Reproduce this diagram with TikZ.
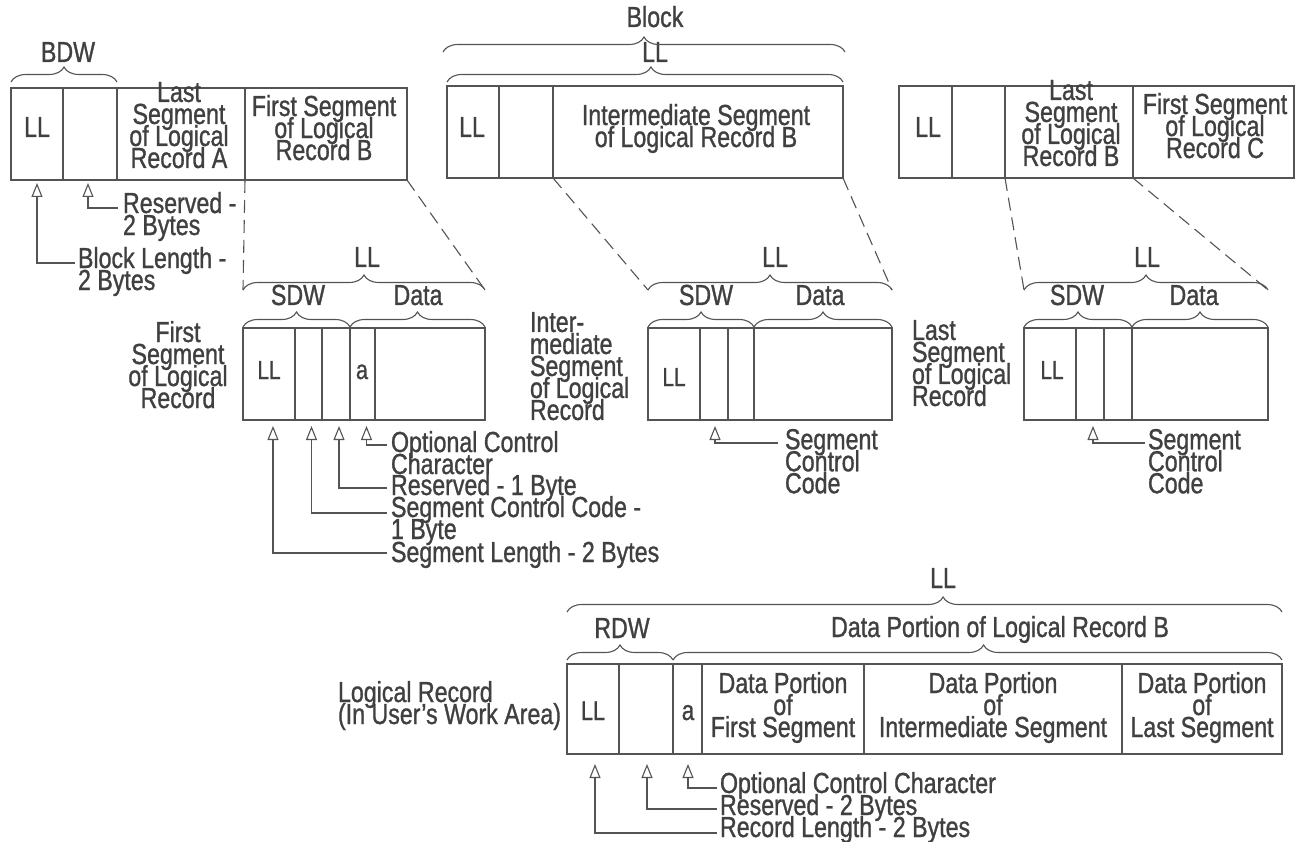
\documentclass[tikz,border=0pt]{standalone}
\usepackage{fontspec}
\setmainfont[FakeStretch=0.8, FakeBold=1]{Liberation Sans}
\usetikzlibrary{arrows.meta,decorations.pathreplacing,calc}
\newcommand\Fnt[2]{\fontsize{#1}{#2}\selectfont\lineskiplimit=-100pt\relax}
\newcommand\mkcell[5]{\node[cellst, minimum width=#4pt, minimum height=#5pt] (#1) at (#2,#3) {};}
\definecolor{inkc}{gray}{0.25}
\definecolor{linec}{gray}{0.33}
\begin{document}
\begin{tikzpicture}[x=1pt,y=-1pt,
  cellst/.style={draw=linec, line width=1.1pt, anchor=north west, inner sep=0pt, outer sep=0pt},
  txt/.style={text=inkc, inner sep=0pt, outer sep=0pt, font=\Fnt{29}{22}},
  lbl/.style={txt, align=left, anchor=north west},
  ctr/.style={txt, align=center, anchor=north},
  bl/.style={txt, anchor=base},
  smallll/.style={txt, anchor=base, font=\Fnt{26}{22}},
  bracest/.style={draw=linec, line width=1.1pt, decorate, decoration={brace, amplitude=15pt}},
  dashline/.style={draw=linec, line width=1.1pt, dash pattern=on 13pt off 7pt},
  ptr/.style={draw=linec, line width=1.1pt, -{Triangle[open, length=14pt, width=11pt]}}
]
\fill[white] (0,0) rectangle (1295,842);
\useasboundingbox (0,0) rectangle (1295,842);

% ---------- top blocks ----------
\mkcell{b1a}{11}{88}{52}{92}
\mkcell{b1b}{63}{88}{54}{92}
\mkcell{b1c}{117}{88}{128}{92}
\mkcell{b1d}{245}{88}{162}{92}
\mkcell{b2a}{447}{86}{52}{92}
\mkcell{b2b}{499}{86}{54}{92}
\mkcell{b2c}{553}{86}{290}{92}
\mkcell{b3a}{899}{86}{53}{92}
\mkcell{b3b}{952}{86}{53}{92}
\mkcell{b3c}{1005}{86}{128}{92}
\mkcell{b3d}{1133}{86}{161}{92}

\node[bl] (b1all) at (37,137) {LL};
\node[ctr] (b1ct) at (179,82) {Last\\Segment\\of Logical\\Record A};
\node[ctr] (b1dt) at (324,95) {First Segment\\of Logical\\Record B};
\node[bl] (b2all) at (472,137) {LL};
\node[ctr] (b2ct) at (696,104) {Intermediate Segment\\of Logical Record B};
\node[bl] (b3all) at (928,137) {LL};
\node[ctr] (b3ct) at (1071,80) {Last\\Segment\\of Logical\\Record B};
\node[ctr] (b3dt) at (1215,93) {First Segment\\of Logical\\Record C};

% braces over top blocks
\draw[bracest] ([yshift=6pt]b1a.north west) -- ([yshift=6pt]b1b.north east);
\node[bl] (bdw) at (68,62) {BDW};
\draw[bracest, decoration={aspect=0.515}] ([yshift=4pt]b2a.north west) -- ([yshift=4pt]b2c.north east);
\node[bl] (b2ll) at (655,62) {LL};
\draw[bracest] ([xshift=-4pt,yshift=34pt]b2a.north west) -- ([xshift=2pt,yshift=34pt]b2c.north east);
\node[bl] (blk) at (655,27) {Block};

% annotations top-left
\node[lbl] (resv1) at (123,192) {Reserved -\\2 Bytes};
\node[lbl] (blen) at (78,247) {Block Length -\\2 Bytes};
\coordinate (e1) at (118,208);
\coordinate (e2) at (75,263);
\draw[ptr] (e1) -| ([xshift=-2pt,yshift=-3pt]b1b.south);
\draw[ptr] (e2) -| ([yshift=-3pt]b1a.south);

% ---------- second row ----------
\mkcell{s1a}{243}{328}{52}{92}
\mkcell{s1b}{295}{328}{27}{92}
\mkcell{s1c}{322}{328}{28}{92}
\mkcell{s1d}{350}{328}{25}{92}
\mkcell{s1e}{375}{328}{110}{92}
\mkcell{s2a}{648}{328}{52}{92}
\mkcell{s2b}{700}{328}{28}{92}
\mkcell{s2c}{728}{328}{26}{92}
\mkcell{s2d}{754}{328}{138}{92}
\mkcell{s3a}{1024}{328}{52}{92}
\mkcell{s3b}{1076}{328}{28}{92}
\mkcell{s3c}{1104}{328}{28}{92}
\mkcell{s3d}{1132}{328}{136}{92}

\node[smallll] (s1ll) at (269,379) {LL};
\node[txt, anchor=base, font=\Fnt{27}{22}] (s1aa) at (362,379) {a};
\node[smallll] (s2ll) at (674,386) {LL};
\node[smallll] (s3ll) at (1052,379) {LL};

% brace end points
\coordinate (s1L) at ([yshift=38pt]s1a.north west);
\coordinate (s1R) at ([yshift=38pt]s1e.north east);
\coordinate (s2L) at ([yshift=38pt]s2a.north west);
\coordinate (s2R) at ([yshift=38pt]s2d.north east);
\coordinate (s3L) at ([yshift=38pt]s3a.north west);
\coordinate (s3R) at ([yshift=38pt]s3d.north east);

\draw[bracest] (s1L) -- (s1R);
\draw[bracest] (s2L) -- (s2R);
\draw[bracest] (s3L) -- (s3R);
\draw[bracest] ([yshift=1pt]s1a.north west) -- ([yshift=1pt]s1c.north east);
\draw[bracest] ([yshift=1pt]s1d.north west) -- ([yshift=1pt]s1e.north east);
\draw[bracest] ([yshift=1pt]s2a.north west) -- ([yshift=1pt]s2c.north east);
\draw[bracest] ([yshift=1pt]s2d.north west) -- ([yshift=1pt]s2d.north east);
\draw[bracest] ([yshift=1pt]s3a.north west) -- ([yshift=1pt]s3c.north east);
\draw[bracest] ([yshift=1pt]s3d.north west) -- ([yshift=1pt]s3d.north east);

\node[bl] (s1llb) at (367,267) {LL};
\node[bl] (s1sdw) at (298,305) {SDW};
\node[bl] (s1dat) at (418,305) {Data};
\node[bl] (s2llb) at (775,267) {LL};
\node[bl] (s2sdw) at (706,305) {SDW};
\node[bl] (s2dat) at (820,305) {Data};
\node[bl] (s3llb) at (1147,267) {LL};
\node[bl] (s3sdw) at (1077,305) {SDW};
\node[bl] (s3dat) at (1194,305) {Data};

% dashed expansion lines
\draw[dashline] (b1d.south west) -- (s1L);
\draw[dashline] (b1d.south east) -- (s1R);
\draw[dashline] (b2c.south west) -- (s2L);
\draw[dashline] (b2c.south east) -- (s2R);
\draw[dashline] (b3c.south west) -- (s3L);
\draw[dashline] (b3c.south east) -- (s3R);

% row labels
\node[ctr] (fsl) at (178,321) {First\\Segment\\of Logical\\Record};
\node[lbl] (isl) at (530,312) {Inter-\\mediate\\Segment\\of Logical\\Record};
\node[lbl] (lsl) at (912,320) {Last\\Segment\\of Logical\\Record};

% annotations row 2
\node[lbl] (occ) at (391,431) {Optional Control\\Character};
\node[lbl] (rs1) at (391,474) {Reserved - 1 Byte};
\node[lbl] (scc) at (391,496) {Segment Control Code -\\1 Byte};
\node[lbl] (sln) at (391,541) {Segment Length - 2 Bytes};
\node[lbl] (scc2) at (785,429) {Segment\\Control\\Code};
\node[lbl] (scc3) at (1148,429) {Segment\\Control\\Code};
\coordinate (e3) at (387,445);
\coordinate (e4) at (387,488);
\coordinate (e5) at (387,513);
\coordinate (e6) at (387,553);
\coordinate (e7) at (778,443);
\coordinate (e8) at (1145,443);
\draw[ptr] (e3) -| ([xshift=4pt,yshift=-6pt]s1d.south);
\draw[ptr] (e4) -| ([xshift=3pt,yshift=-6pt]s1c.south);
\draw[ptr] (e5) -| ([xshift=3pt,yshift=-6pt]s1b.south);
\draw[ptr] (e6) -| ([xshift=4pt,yshift=-6pt]s1a.south);
\draw[ptr] (e7) -| ([xshift=1pt,yshift=-6pt]s2b.south);
\draw[ptr] (e8) -| ([xshift=3pt,yshift=-6pt]s3b.south);

% ---------- bottom logical record ----------
\mkcell{la}{567}{664}{52}{90}
\mkcell{lb}{619}{664}{54}{90}
\mkcell{lc}{673}{664}{29}{90}
\mkcell{ld}{702}{664}{162}{90}
\mkcell{le}{864}{664}{258}{90}
\mkcell{lf}{1122}{664}{160}{90}

\node[txt, anchor=base, font=\Fnt{27}{22}] (lall) at (593,720) {LL};
\node[txt, anchor=base, font=\Fnt{28}{22}] (lca) at (688,720) {a};
\node[ctr] (ldt) at (783,672) {Data Portion\\of\\First Segment};
\node[ctr] (let) at (993,672) {Data Portion\\of\\Intermediate Segment};
\node[ctr] (lft) at (1202,672) {Data Portion\\of\\Last Segment};

\draw[bracest] ([yshift=4pt]la.north west) -- ([yshift=4pt]lb.north east);
\draw[bracest, decoration={aspect=0.51}] ([yshift=4pt]lc.north west) -- ([yshift=4pt]lf.north east);
\draw[bracest, decoration={aspect=0.526}] ([yshift=52pt]la.north west) -- ([yshift=52pt]lf.north east);
\node[bl] (rdw) at (622,638) {RDW};
\node[bl] (dplr) at (1000,637) {Data Portion of Logical Record B};
\node[bl] (lltop) at (943,588) {LL};

\node[lbl] (lrec) at (338,681) {Logical Record\\(In User's Work Area)};

\node[lbl] (occb) at (720,772) {Optional Control Character};
\node[lbl] (rs2) at (720,794) {Reserved - 2 Bytes};
\node[lbl] (rln) at (720,816) {Record Length - 2 Bytes};
\coordinate (e9) at (717,788);
\coordinate (e10) at (717,809);
\coordinate (e11) at (717,833);
\draw[ptr] (e9) -| ([xshift=0.5pt,yshift=-10pt]lc.south);
\draw[ptr] (e10) -| ([xshift=1pt,yshift=-10pt]lb.south);
\draw[ptr] (e11) -| ([xshift=2pt,yshift=-10pt]la.south);
\end{tikzpicture}
\end{document}
